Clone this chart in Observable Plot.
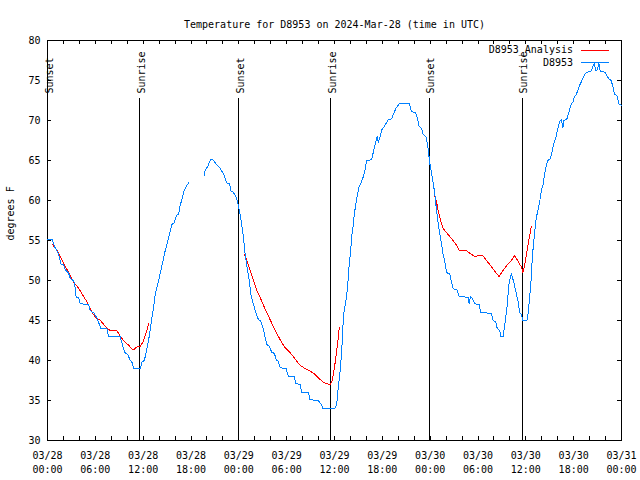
<!DOCTYPE html>
<html>
<head>
<meta charset="utf-8">
<script src="https://cdn.jsdelivr.net/npm/d3@7"></script>
<script src="https://cdn.jsdelivr.net/npm/@observablehq/plot@0.6"></script>
<style>
  body { margin: 0; background: white; }
  svg { display: block; }
</style>
</head>
<body>
<div id="chart"></div>
<script>
// ---- Data (hours since 2024-03-28 00:00 UTC) ----
const titleText = "Temperature for D8953 on 2024-Mar-28 (time in UTC)";
const yLabelText = "degrees F";
const seriesNames = ["D8953_Analysis", "D8953"];
const seriesColors = ["#ff0000", "#0080ff"];

const blueHour = [0,0.6,0.9,1.2,1.4,1.7,2.0,2.25,2.65,2.85,3.3,3.4,3.6,3.9,4.1,5.15,5.35,5.85,6.2,6.7,7.45,7.65,9.1,9.3,9.7,10.05,10.4,10.7,10.75,11.65,11.85,12.15,12.48,12.68,12.99,13.31,13.52,13.94,14.36,14.77,15.06,15.4,15.6,15.9,16.15,16.44,16.65,16.87,17.15,17.49,17.69,
  null,
  19.66,19.78,20.07,20.32,20.5,20.75,21.04,21.32,21.66,22.08,22.5,22.83,23.0,23.33,23.67,23.95,24.25,24.58,24.79,25.0,25.33,25.5,25.76,26.05,26.46,26.76,27.0,27.3,27.51,27.84,28.14,28.46,28.68,28.96,29.18,29.93,30.22,30.93,31.18,31.68,31.89,32.72,32.93,33.97,34.4,34.52,36.06,36.28,36.48,36.69,36.9,37.03,37.19,37.44,37.6,37.73,37.85,38.03,38.15,38.35,38.48,38.69,38.86,39.07,39.28,39.53,39.82,40.03,40.66,40.86,41.07,41.36,41.49,41.7,41.91,42.2,42.45,42.74,43.16,43.36,43.7,44.11,45.37,45.67,46.17,46.37,46.62,46.92,47.12,47.46,47.62,47.8,47.96,48.17,48.37,48.58,48.8,49.0,49.21,49.42,49.62,49.84,50.05,50.46,50.68,50.88,51.38,51.63,52.75,52.88,53.06,53.31,53.59,54.13,54.35,55.68,55.89,56.22,56.39,56.72,56.85,57.14,57.35,57.64,57.89,58.19,58.48,58.73,59.02,59.23,59.44,59.64,60.14,60.27,60.48,60.69,60.82,61.1,61.32,61.52,61.73,61.95,62.15,62.36,62.57,62.77,63.07,63.32,63.49,63.74,64.03,64.24,64.45,64.65,64.78,65.15,65.4,65.7,65.9,66.12,66.33,66.53,66.74,66.95,67.24,67.58,68.2,68.41,68.62,68.75,68.91,69.16,69.33,70.0,70.16,70.41,70.71,70.91,71.12,71.41,71.54,71.66,72.0];
const blueTemp = [55.1,55.1,54.2,53.7,53.2,52.0,52.0,51.3,50.9,50.3,49.9,49.6,47.9,47.9,47.1,47.0,46.25,45.9,45.3,44.0,44.0,43.0,43.0,42.3,41.0,40.75,40.0,39.6,39.0,39.0,39.8,40.0,41.5,42.5,44.6,46.7,48.3,50.0,51.9,53.75,54.8,56.25,57.0,57.2,58.1,58.3,59.4,60.2,61.25,61.9,62.2,
  null,
  63.1,63.8,64.2,64.8,65.1,65.1,64.7,64.4,64.0,63.3,62.2,62.1,61.2,61.0,60.4,59.4,57.7,55.4,53.3,51.9,49.8,48.3,47.3,46.25,45.1,44.9,44.2,42.9,42.0,41.75,41.0,40.9,40.1,39.9,39.1,39.0,38.0,38.0,37.1,37.0,36.0,36.0,35.1,35.0,34.4,34.0,34.0,34.6,36.7,38.5,41.0,44.0,46.0,47.5,48.75,50.4,52.1,53.75,55.4,56.9,58.3,59.6,60.6,61.7,62.1,62.7,63.75,65.0,65.1,66.0,66.9,68.0,67.2,67.9,68.8,69.2,69.6,70.1,70.2,70.75,71.5,72.1,72.1,71.1,71.0,70.4,69.25,69.0,68.25,68.0,67.3,66.0,64.6,63.5,62.3,60.8,58.75,57.2,55.8,54.6,53.3,52.3,51.0,50.8,49.8,49.0,48.8,48.0,47.9,47.1,48.0,47.7,47.1,47.0,46.0,45.9,45.0,44.8,44.1,43.75,43.0,43.0,44.4,46.7,49.6,50.9,49.8,48.75,47.4,46.0,45.8,45.0,45.0,45.8,47.9,50.4,53.0,56.0,57.9,58.75,59.8,61.25,61.9,63.3,64.4,65.0,65.2,66.25,67.1,67.8,69.0,69.9,70.1,69.1,70.0,70.2,71.0,72.1,72.3,73.0,73.25,73.8,74.4,74.8,75.5,76.0,76.2,76.75,77.1,76.2,76.2,77.1,76.2,76.0,75.6,75.2,75.0,74.25,73.3,73.1,72.7,72.1,71.9];

const redHour = [0.66,0.88,1.21,1.41,1.84,2.25,2.67,2.97,3.29,3.92,4.35,4.97,5.38,5.6,6.01,6.64,7.05,7.48,7.89,8.73,9.14,9.55,10.18,10.73,11.23,11.65,12.06,12.48,12.68,
  null,
  24.71,25.08,25.42,25.83,26.26,26.67,27.09,27.51,27.92,28.34,28.76,29.18,29.71,30.43,31.05,31.68,32.31,32.93,33.56,34.1,34.6,35.02,35.44,35.65,35.85,36.06,36.28,36.48,36.6,
  null,
  48.5,48.8,49.0,49.21,49.42,49.62,50.05,50.46,50.88,51.3,51.63,52.56,52.97,53.59,54.13,54.63,55.06,55.68,56.22,56.64,57.14,57.64,58.19,58.6,59.02,59.44,59.64,59.85,60.07,60.27,60.48,60.69];
const redTemp = [54.5,54.1,53.75,53.3,52.5,51.7,51.0,50.4,49.8,49.0,48.3,47.3,46.5,46.0,45.4,45.0,44.5,44.0,43.75,43.7,43.0,42.5,41.9,41.3,41.7,41.75,42.5,43.75,44.6,
  null,
  53.3,52.3,51.25,50.0,48.75,47.9,46.9,46.0,45.1,44.25,43.4,42.6,41.7,41.0,40.2,39.4,39.0,38.7,38.25,37.7,37.3,37.1,37.0,37.3,38.3,39.6,41.25,42.9,44.1,
  null,
  60.8,59.8,58.75,57.9,57.1,56.5,56.0,55.5,55.0,54.4,53.8,53.75,53.4,53.0,53.1,53.1,52.5,51.75,51.0,50.5,51.25,51.9,52.5,53.1,52.4,51.7,51.0,51.9,53.3,54.4,55.6,56.75];

const eventLabel = ["Sunset", "Sunrise", "Sunset", "Sunrise", "Sunset", "Sunrise"];
const eventHour = [0, 11.56, 23.96, 35.56, 47.87, 59.52];

const yTickValues = [30, 35, 40, 45, 50, 55, 60, 65, 70, 75, 80];
const xLabelHours = [0, 6, 12, 18, 24, 30, 36, 42, 48, 54, 60, 66, 72];
const xMinorHours = d3.range(0, 73, 2);

// ---- Build tables ----
const t0 = Date.UTC(2024, 2, 28, 0, 0);
const toDate = h => new Date(t0 + h * 3600e3);
function series(hours, temps, name) {
  return hours.map((h, i) => ({
    t: h == null ? toDate((hours[i - 1] + hours[i + 1]) / 2) : toDate(h),
    v: temps[i] == null ? NaN : temps[i],
    name
  }));
}
const red = series(redHour, redTemp, seriesNames[0]);
const blue = series(blueHour, blueTemp, seriesNames[1]);
const events = eventHour.map((h, i) => ({t: toDate(h), label: eventLabel[i]}));

const font = "DejaVu Sans Mono";
const W = 640, H = 480, mL = 47, mR = 19, mT = 40, mB = 40;
const fw = W - mL - mR, fh = H - mT - mB;

const plot = Plot.plot({
  width: W,
  height: H,
  marginLeft: mL,
  marginRight: mR,
  marginTop: mT,
  marginBottom: mB,
  style: {fontFamily: font, fontSize: "10px", background: "white", color: "black", overflow: "visible"},
  x: {type: "utc", domain: [toDate(0), toDate(72)]},
  y: {domain: [30, 80]},
  marks: [
    Plot.frame({stroke: "black", shapeRendering: "crispEdges"}),
    Plot.ruleX(xMinorHours.map(toDate), {insetTop: fh - 4, shapeRendering: "crispEdges"}),
    Plot.ruleX(xMinorHours.map(toDate), {insetBottom: fh - 4, shapeRendering: "crispEdges"}),
    Plot.ruleY(yTickValues, {insetRight: fw - 4, shapeRendering: "crispEdges"}),
    Plot.ruleY(yTickValues, {insetLeft: fw - 4, shapeRendering: "crispEdges"}),
    Plot.axisX(xLabelHours.map(toDate), {
      tickSize: 0, tickPadding: 8, lineHeight: 1.45, label: null,
      tickFormat: d3.utcFormat("%m/%d\n%H:%M"), fontFamily: font
    }),
    Plot.axisY(yTickValues, {tickSize: 0, tickPadding: 7, label: null, fontFamily: font}),
    Plot.ruleX(events, {x: "t", insetTop: 58, stroke: "black", shapeRendering: "crispEdges"}),
    Plot.text(events, {x: "t", text: "label", frameAnchor: "top", rotate: -90, textAnchor: "start", dy: 53, dx: -2}),
    Plot.line(red, {x: "t", y: "v", stroke: seriesColors[0], strokeWidth: 1, shapeRendering: "crispEdges"}),
    Plot.line(blue, {x: "t", y: "v", stroke: seriesColors[1], strokeWidth: 1, shapeRendering: "crispEdges"}),
    Plot.text([titleText], {frameAnchor: "top", dy: -20}),
    Plot.text([yLabelText], {frameAnchor: "left", rotate: -90, dx: -37})
  ]
});

// Legend (top-right, inside frame)
const svg = d3.select(plot);
const lg = svg.append("g").attr("font-family", font).attr("font-size", 10);
seriesNames.forEach((name, i) => {
  const y = mT + 10 + i * 12.5;
  lg.append("text").attr("x", W - mR - 48).attr("y", y).attr("dy", "0.32em")
    .attr("text-anchor", "end").attr("fill", "black").text(name);
  lg.append("line").attr("x1", W - mR - 40).attr("x2", W - mR - 12)
    .attr("y1", y).attr("y2", y).attr("stroke", seriesColors[i]).attr("stroke-width", 1)
    .attr("shape-rendering", "crispEdges");
});

document.getElementById("chart").appendChild(plot);
</script>
</body>
</html>
